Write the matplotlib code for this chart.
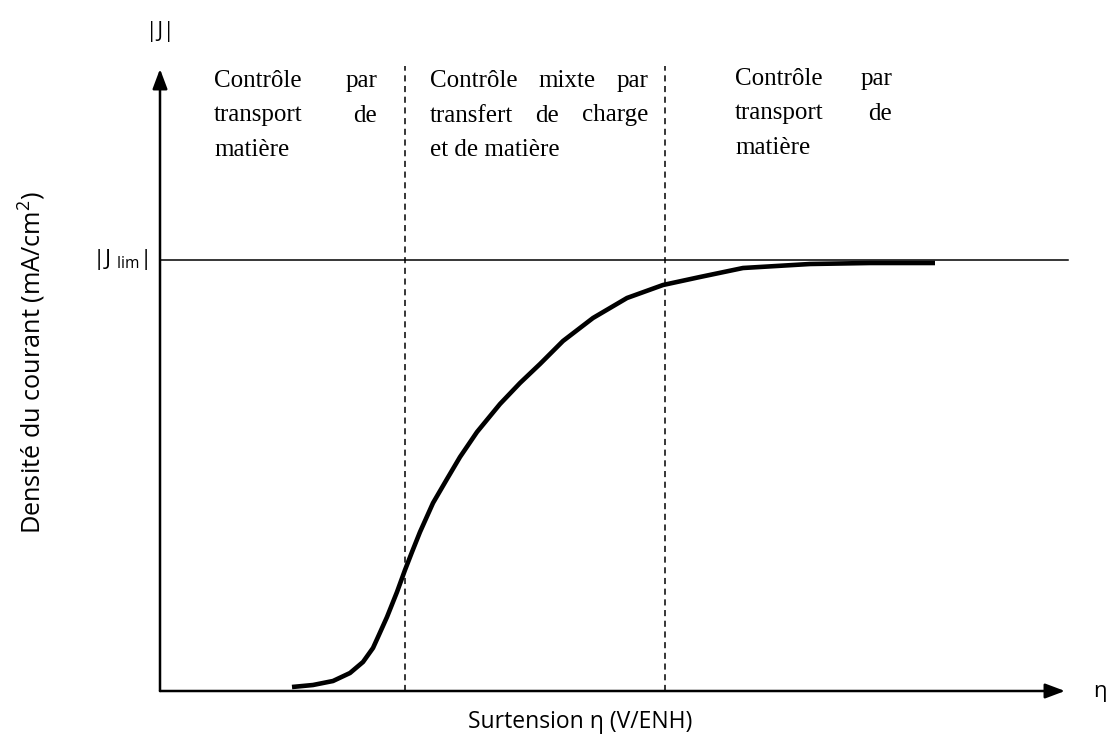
import matplotlib
matplotlib.use("Agg")
import matplotlib.pyplot as plt

# ---- data (arbitrary units: x = overpotential, y = |J|) ----
curve_x = [132, 153, 173, 190, 203, 213, 218, 227, 237, 245, 252, 260, 273, 287, 300, 317, 340,
           360, 380, 403, 433, 467, 503, 540, 583, 650, 710, 775]
curve_y = [4, 6, 10, 18, 29, 43, 54, 74, 99, 121, 139, 159, 188, 212, 234, 259, 287,
           308, 327, 350, 373, 393, 406, 414, 423, 427, 428, 428]
j_lim = 431.5
boundaries = [245, 505]
x_axis_end = 905
y_axis_end = 622

col1 = [["Contrôle", "par"], ["transport", "de"], ["matière"]]
col2 = [["Contrôle", "mixte", "par"], ["transfert", "de", "charge"], ["et", "de", "matière"]]
col3 = [["Contrôle", "par"], ["transport", "de"], ["matière"]]

fig = plt.figure(figsize=(11.10, 7.36), dpi=100)
ax = fig.add_axes([0, 0, 1, 1])
ax.set_xlim(-160, 950)
ax.set_ylim(-45, 691)
ax.axis("off")

# axes arrows
ax.annotate("", xy=(x_axis_end, 0), xytext=(0, 0),
            arrowprops=dict(arrowstyle="-|>,head_length=1.2,head_width=0.45", lw=1.8, color="black",
                            shrinkA=0, shrinkB=0))
ax.annotate("", xy=(0, y_axis_end), xytext=(0, 0),
            arrowprops=dict(arrowstyle="-|>,head_length=1.2,head_width=0.45", lw=1.8, color="black",
                            shrinkA=0, shrinkB=0))

# J lim line
ax.plot([0, 908], [j_lim, j_lim], color="black", lw=1.1)

# dashed boundaries
for b in boundaries:
    ax.plot([b, b], [0, 625], color="black", lw=1.1, ls=(0, (4, 3)))

# curve
ax.plot(curve_x, curve_y, color="black", lw=3.3, solid_capstyle="butt", solid_joinstyle="round")

# labels
sans = "Open Sans"
ax.text(0, 660, "|J|", fontsize=15, family=sans, ha="center", va="center")
ax.text(-12, j_lim, "|J $_{\\mathregular{lim}}$|", fontsize=16, family=sans, ha="right", va="center")
ax.text(940, -1, "η", fontsize=16, family=sans, ha="center", va="center")
ax.text(420, -31, "Surtension η (V/ENH)", fontsize=16.5, family=sans, ha="center", va="center")
ax.text(-128, 328, "Densité du courant (mA/cm$^{\\mathregular{2}}$)", fontsize=18.2, family=sans,
        ha="center", va="center", rotation=90)

serif = "Liberation Serif"
FS = 18
fig.canvas.draw()
renderer = fig.canvas.get_renderer()
inv = ax.transData.inverted()


def word_width(w):
    t = ax.text(0, 0, w, fontsize=FS, family=serif)
    bb = t.get_window_extent(renderer)
    t.remove()
    p0 = inv.transform((bb.x0, bb.y0))
    p1 = inv.transform((bb.x1, bb.y0))
    return p1[0] - p0[0]


def justify(lines, x0, x1, ytop, dy):
    for i, words in enumerate(lines):
        y = ytop - i * dy
        if i == len(lines) - 1 or len(words) == 1:
            ax.text(x0, y, " ".join(words), fontsize=FS, family=serif, ha="left", va="baseline")
            continue
        widths = [word_width(w) for w in words]
        gap = (x1 - x0 - sum(widths)) / (len(words) - 1)
        x = x0
        for w, wd in zip(words, widths):
            ax.text(x, y, w, fontsize=FS, family=serif, ha="left", va="baseline")
            x += wd + gap


justify(col1, 54, 217, 604, 34.5)
justify(col2, 270, 488, 604, 34.5)
justify(col3, 575, 732, 606, 34.5)

fig.savefig("out.png", dpi=100)
